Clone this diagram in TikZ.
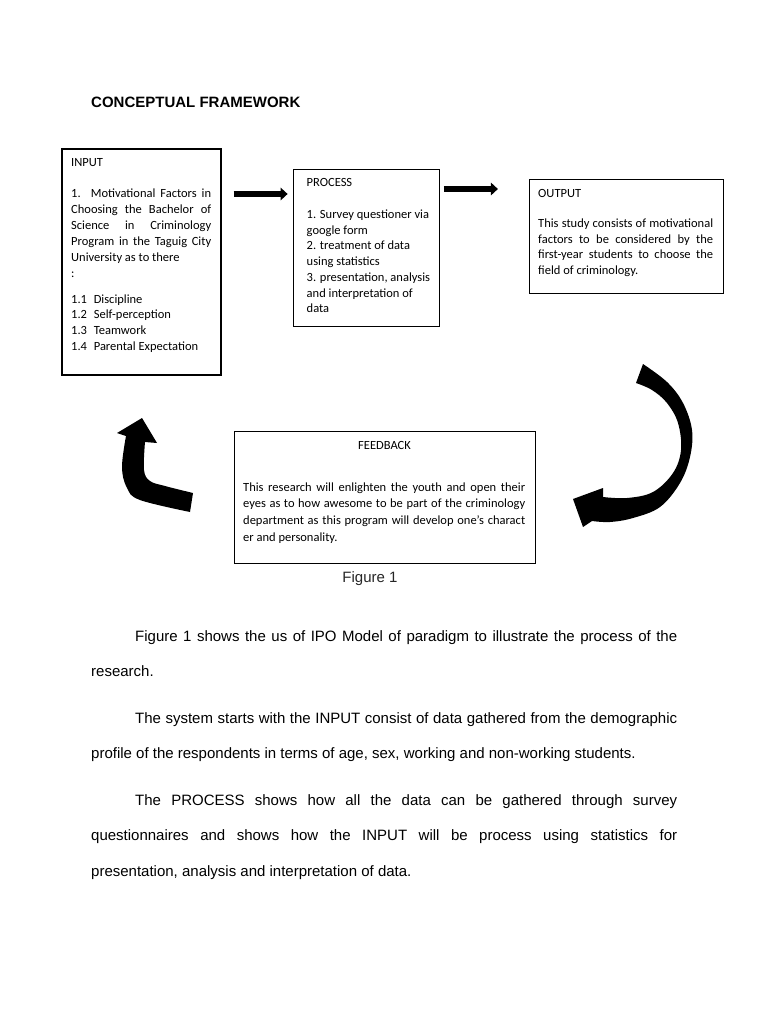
\documentclass[tikz,border=0pt]{standalone}
\usepackage{fontspec}
\setmainfont{Liberation Sans}
\newfontfamily\calib{Carlito}
\usetikzlibrary{arrows.meta}
\newcommand\jl[2]{\makebox[#1][s]{#2}}
\tikzset{
  box/.style={draw, line width=0.8pt, inner sep=0pt},
  btxt/.style={anchor=base west, inner sep=0pt, font=\calib\fontsize{12.5}{15.7}\selectfont},
  body/.style={anchor=base west, inner sep=0pt, font=\fontsize{15}{18}\selectfont},
  fat/.style={line width=5.3pt, -{Triangle[length=7pt,width=12.5pt]}},
}
\begin{document}
\begin{tikzpicture}[x=1pt,y=-1pt]
\useasboundingbox (0,0) rectangle (768,1024);

% title
\node[body, font=\bfseries\fontsize{15}{18}\selectfont] (title) at (91,107.5) {CONCEPTUAL FRAMEWORK};

% boxes
\node[box, line width=1.1pt, minimum width=159pt, minimum height=226pt] (input) at (141.5,262) {};
\node[box, minimum width=146pt, minimum height=157pt] (process) at (366,248) {};
\node[box, minimum width=194pt, minimum height=114pt] (output) at (626,236) {};
\node[box, minimum width=301pt, minimum height=132pt] (feedback) at (384.5,497) {};

% input text
\node[btxt] (inT) at (71,167) {INPUT};
\foreach \t [count=\i from 0] in {
  {\jl{140pt}{1. Motivational Factors in}},
  {\jl{140pt}{Choosing the Bachelor of}},
  {\jl{140pt}{Science in Criminology}},
  {\jl{140pt}{Program in the Taguig City}},
  {University as to there},
  {:}}
  \node[btxt] (in\i) at (71,{198+15.8*\i}) {\t};
\foreach \n/\t [count=\i from 0] in {1.1/Discipline, 1.2/Self-perception, 1.3/Teamwork, 1.4/Parental Expectation}
  \node[btxt] (li\i) at (71,{303+15.8*\i}) {\makebox[22.6pt][l]{\n}\t};

% process text
\node[btxt] (prT) at (306.5,187) {PROCESS};
\foreach \t [count=\i from 0] in {
  {1. Survey questioner via},
  {google form},
  {2. treatment of data},
  {using statistics},
  {3. presentation, analysis},
  {and interpretation of},
  {data}}
  \node[btxt] (pr\i) at (306.5,{218.5+15.7*\i}) {\t};

% output text
\node[btxt] (ouT) at (538,197.5) {OUTPUT};
\foreach \t [count=\i from 0] in {
  {\jl{175pt}{This study consists of motivational}},
  {\jl{175pt}{factors to be considered by the}},
  {\jl{175pt}{first-year students to choose the}},
  {field of criminology.}}
  \node[btxt] (ou\i) at (538,{227.5+15.7*\i}) {\t};

% feedback text
\node[btxt, anchor=base] (fbT) at (384.5,449.5) {FEEDBACK};
\foreach \t [count=\i from 0] in {
  {\jl{282pt}{This research will enlighten the youth and open their}},
  {\jl{282pt}{eyes as to how awesome to be part of the criminology}},
  {\jl{282pt}{department as this program will develop one’s charact}},
  {er and personality.}}
  \node[btxt] (fb\i) at (243,{491+16.8*\i}) {\t};

% straight arrows
\draw[fat, shorten <=12pt, shorten >=5pt] (input.east |- 0,194) -- (process.west |- 0,194);
\draw[fat, shorten <=4.5pt, shorten >=30.7pt] (process.east |- 0,189) -- (output.west |- 0,189);

% curved arrow (right, going down to feedback)
\fill plot[smooth, tension=0.6] coordinates {(643,364) (667,382) (683,403) (692,430) (690,457) (680,483) (660,507) (633,518) (610,522) (592,521)}
  -- (583,527) -- (573,499) -- (603,488)
  -- plot[smooth, tension=0.6] coordinates {(603,497) (627,498) (653,492) (673,473) (681,450) (678,423) (667,403) (652,390) (636,383)}
  -- cycle;

% curved arrow (left, going up to input)
\fill (142,418) -- (117,433)
  -- plot[smooth, tension=0.6] coordinates {(126,436) (122,467) (127,488) (140,500) (190,512)}
  -- plot[smooth, tension=0.6] coordinates {(193,493) (165,486) (150,481) (144,470) (145,442)}
  -- (157,443) -- cycle;

% figure caption
\node[anchor=base, inner sep=0pt, font=\fontsize{15}{18}\selectfont, text=black!85] (fig) at (370,582.3) {Figure 1};

% body text
\node[body] (b1) at (135,641.5) {\jl{542pt}{Figure 1 shows the us of IPO Model of paradigm to illustrate the process of the}};
\node[body] (b2) at (91,676.8) {research.};
\node[body] (b3) at (135,723.5) {\jl{542pt}{The system starts with the INPUT consist of data gathered from the demographic}};
\node[body] (b4) at (91,758.8) {profile of the respondents in terms of age, sex, working and non-working students.};
\node[body] (b5) at (135,805.5) {\jl{542pt}{The PROCESS shows how all the data can be gathered through survey}};
\node[body] (b6) at (91,840.8) {\jl{586pt}{questionnaires and shows how the INPUT will be process using statistics for}};
\node[body] (b7) at (91,876.1) {presentation, analysis and interpretation of data.};
\end{tikzpicture}
\end{document}
